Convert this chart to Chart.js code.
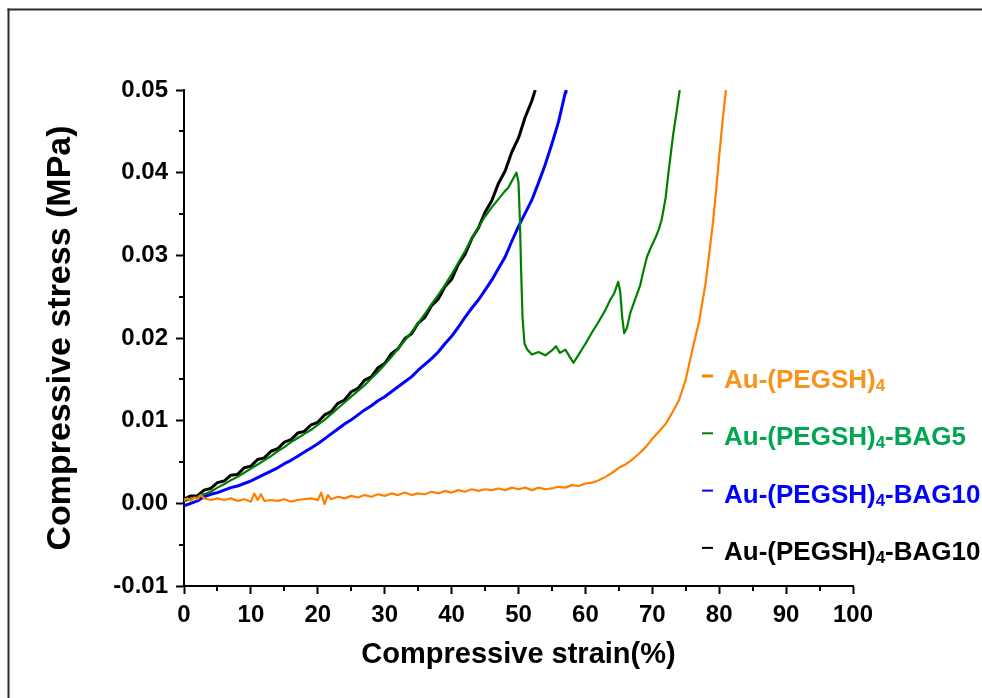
<!DOCTYPE html>
<html><head><meta charset="utf-8">
<script src="https://cdn.jsdelivr.net/npm/chart.js@4.4.1/dist/chart.umd.min.js"></script>
<style>html,body{margin:0;padding:0;background:#fff}canvas{display:block}</style>
</head><body>
<canvas id="c" width="982" height="698"></canvas>
<script>
// ---- data ----
const seriesLabels = ['Au-(PEGSH)₄', 'Au-(PEGSH)₄-BAG5', 'Au-(PEGSH)₄-BAG10', 'Au-(PEGSH)₄-BAG10'];

const orangeX = [0,0.5,1,1.5,2,2.5,3,3.5,4,5,6,7,8,9,10,10.5,11,11.5,12,13,14,15,16,17,18,19,20,20.5,21,21.5,22,23,24,25,26,27,28,29,30,31,32,33,34,35,36,37,38,39,40,41,42,43,44,45,46,47,48,49,50,51,52,53,54,55,56,57,58,59,60,61,62,63,64,65,66,67,68,69,70,71,72,73,74,75,76,77,78,79,79.5,80,80.5,81];
const orangeY = [0.0004,0.0006,0.0003,0.0007,0.0005,0.0010,0.0006,0.0005,0.0004,0.0006,0.0004,0.0006,0.0003,0.0005,0.0002,0.0012,0.0004,0.0011,0.0003,0.0004,0.0003,0.0005,0.0002,0.0004,0.0005,0.0006,0.0004,0.0013,-0.0001,0.0010,0.0005,0.0008,0.0006,0.0009,0.0007,0.0010,0.0008,0.0011,0.0009,0.0012,0.0010,0.0013,0.0010,0.0012,0.0011,0.0014,0.0012,0.0015,0.0013,0.0016,0.0014,0.0017,0.0015,0.0017,0.0016,0.0018,0.0016,0.0019,0.0017,0.0019,0.0016,0.0019,0.0017,0.0018,0.0020,0.0019,0.0022,0.0021,0.0024,0.0025,0.0028,0.0032,0.0037,0.0043,0.0047,0.0053,0.0060,0.0068,0.0078,0.0087,0.0096,0.0110,0.0125,0.0150,0.0186,0.0220,0.0268,0.0335,0.0375,0.0420,0.0462,0.0500];

const greenX = [0,1,2,3,4,5,6,7,8,9,10,11,12,13,14,15,16,17,18,19,20,21,22,23,24,25,26,27,28,29,30,31,32,33,34,35,36,37,38,39,40,41,42,43,44,45,46,47,48,48.5,49,49.7,50.0,50.2,50.4,50.6,50.9,51.3,52,53,54,55,55.6,56.2,57,57.6,58.2,59,60,61,62,63,63.7,64.3,64.9,65.2,65.5,65.8,66.2,66.7,67.4,68.2,68.7,69.2,69.7,70.4,71.0,71.4,72.0,72.4,72.8,73.1,73.6,74.1];
const greenY = [0.0003,0.0005,0.0008,0.0011,0.0014,0.0019,0.0023,0.0028,0.0032,0.0037,0.0042,0.0047,0.0052,0.0057,0.0063,0.0068,0.0074,0.0079,0.0084,0.0089,0.0095,0.0101,0.0108,0.0115,0.0122,0.0129,0.0136,0.0143,0.0151,0.0159,0.0168,0.0177,0.0187,0.0197,0.0207,0.0218,0.0229,0.0241,0.0252,0.0264,0.0277,0.0291,0.0305,0.0320,0.0334,0.0347,0.0358,0.0368,0.0378,0.0382,0.0390,0.0400,0.0388,0.0345,0.0280,0.0225,0.0193,0.0186,0.0180,0.0183,0.0179,0.0185,0.0190,0.0182,0.0186,0.0178,0.0170,0.0180,0.0193,0.0207,0.0220,0.0234,0.0246,0.0254,0.0268,0.0256,0.0225,0.0206,0.0212,0.0230,0.0246,0.0264,0.0282,0.0298,0.0308,0.0320,0.0332,0.0343,0.0370,0.0399,0.0425,0.0445,0.0472,0.0500];

const blueX = [0,1,2,3,4,5,6,7,8,9,10,11,12,13,14,15,16,17,18,19,20,21,22,23,24,25,26,27,28,29,30,31,32,33,34,35,36,37,38,39,40,41,42,43,44,45,46,47,48,49,50,51,52,53,54,55,56,57,57.1];
const blueY = [-0.0003,0.0000,0.0003,0.0008,0.0011,0.0013,0.0016,0.0019,0.0021,0.0024,0.0027,0.0031,0.0035,0.0039,0.0043,0.0048,0.0052,0.0057,0.0062,0.0067,0.0072,0.0078,0.0084,0.0090,0.0096,0.0101,0.0107,0.0113,0.0118,0.0124,0.0129,0.0135,0.0141,0.0147,0.0153,0.0161,0.0168,0.0175,0.0183,0.0193,0.0202,0.0213,0.0225,0.0236,0.0246,0.0258,0.0270,0.0284,0.0298,0.0317,0.0335,0.0351,0.0367,0.0388,0.0410,0.0435,0.0462,0.0497,0.0500];

const blackX = [0,1,2,3,4,5,6,7,8,9,10,11,12,13,14,15,16,17,18,19,20,21,22,23,24,25,26,27,28,29,30,31,32,33,34,35,36,37,38,39,40,41,42,43,44,45,46,47,48,49,50,51,52,52.5];
const blackY = [0.0005,0.0009,0.0009,0.0016,0.0018,0.0025,0.0027,0.0034,0.0035,0.0043,0.0045,0.0053,0.0055,0.0063,0.0066,0.0074,0.0077,0.0085,0.0087,0.0095,0.0098,0.0107,0.0111,0.0121,0.0125,0.0135,0.0139,0.0149,0.0153,0.0164,0.0169,0.0181,0.0187,0.0199,0.0205,0.0218,0.0225,0.0239,0.0247,0.0262,0.0271,0.0289,0.0301,0.0320,0.0333,0.0352,0.0366,0.0387,0.0402,0.0425,0.0442,0.0467,0.0487,0.0500];

const xTickValues = [0,10,20,30,40,50,60,70,80,90,100];
const xMinorValues = [5,15,25,35,45,55,65,75,85,95];
const yTickValues = [-0.01,0.00,0.01,0.02,0.03,0.04,0.05];
const yMinorValues = [-0.005,0.005,0.015,0.025,0.035,0.045];

const xTitle = 'Compressive strain(%)';
const yTitle = 'Compressive stress (MPa)';

// ---- styles ----
const lineColors = ['#FF8000', '#008000', '#0000FF', '#000000'];
const legendTextColors = ['#F7941D', '#00A651', '#0000FF', '#000000'];
const lineWidths = [2.2, 2.2, 3, 3];
const FONT = '"Liberation Sans", Arial, Helvetica, sans-serif';

function pts(xs, ys) { return xs.map((x, i) => ({ x: x, y: ys[i] })); }
const seriesData = [pts(orangeX, orangeY), pts(greenX, greenY), pts(blueX, blueY), pts(blackX, blackY)];

const framePlugin = {
  id: 'frame',
  beforeDraw(chart) {
    const ctx = chart.ctx;
    ctx.save();
    ctx.fillStyle = '#fff';
    ctx.fillRect(0, 0, chart.width, chart.height);
    ctx.fillStyle = '#2b2b2b';
    ctx.fillRect(7.5, 8.5, chart.width, 2);
    ctx.fillRect(7.5, 8.5, 2, chart.height);
    ctx.restore();
  }
};

const minorTicksPlugin = {
  id: 'minorTicks',
  afterDraw(chart) {
    const ctx = chart.ctx;
    const xs = chart.scales.x, ys = chart.scales.y;
    const area = chart.chartArea;
    ctx.save();
    ctx.strokeStyle = '#000';
    ctx.lineWidth = 2;
    ctx.beginPath();
    xMinorValues.forEach(v => {
      const p = Math.round(xs.getPixelForValue(v));
      ctx.moveTo(p, area.bottom); ctx.lineTo(p, area.bottom + 5);
    });
    yMinorValues.forEach(v => {
      const p = Math.round(ys.getPixelForValue(v));
      ctx.moveTo(area.left, p); ctx.lineTo(area.left - 5, p);
    });
    ctx.stroke();
    ctx.restore();
  }
};

const legendPlugin = {
  id: 'subLegend',
  afterDraw(chart) {
    const ctx = chart.ctx;
    const top = 388, step = 57.3;
    ctx.save();
    chart.data.datasets.forEach((ds, i) => {
      const base = top + i * step;
      ctx.strokeStyle = ds.borderColor;
      ctx.lineWidth = i === 0 ? 3 : 2;
      ctx.beginPath();
      ctx.moveTo(702, base - 12); ctx.lineTo(713, base - 12);
      ctx.stroke();
      const parts = ds.label.split('₄');
      ctx.fillStyle = legendTextColors[i];
      ctx.textBaseline = 'alphabetic';
      ctx.textAlign = 'left';
      let x = 724;
      ctx.font = 'bold 26px ' + FONT;
      ctx.fillText(parts[0], x, base);
      x += ctx.measureText(parts[0]).width;
      ctx.font = 'bold 17px ' + FONT;
      ctx.fillText('4', x, base + 3);
      x += ctx.measureText('4').width;
      if (parts[1]) {
        ctx.font = 'bold 26px ' + FONT;
        ctx.fillText(parts[1], x, base);
      }
    });
    ctx.restore();
  }
};

Chart.defaults.font.family = FONT;
Chart.defaults.font.weight = 'bold';
Chart.defaults.color = '#000';

new Chart(document.getElementById('c'), {
  type: 'line',
  data: {
    datasets: seriesData.map((d, i) => ({
      label: seriesLabels[i],
      data: d,
      borderColor: lineColors[i],
      backgroundColor: lineColors[i],
      borderWidth: lineWidths[i],
      pointRadius: 0,
      tension: 0,
      fill: false,
      borderJoinStyle: 'round'
    }))
  },
  options: {
    responsive: false,
    animation: false,
    devicePixelRatio: 1,
    parsing: true,
    layout: { padding: { left: 0, right: 129, top: 90, bottom: 0 } },
    plugins: { legend: { display: false }, tooltip: { enabled: false } },
    scales: {
      x: {
        type: 'linear', position: 'bottom', min: 0, max: 100,
        afterBuildTicks: s => { s.ticks = xTickValues.map(v => ({ value: v })); },
        afterFit: s => { s.height = 112; },
        ticks: { font: { size: 24, weight: 'bold' }, color: '#000', padding: 7, maxRotation: 0, autoSkip: false,
                 callback: v => String(v) },
        grid: { drawOnChartArea: false, tickLength: 8, tickWidth: 2, tickColor: '#000' },
        border: { display: true, color: '#000', width: 2 },
        title: { display: true, text: xTitle, color: '#000', font: { size: 29, weight: 'bold' }, padding: { top: 0, bottom: 26 } }
      },
      y: {
        type: 'linear', position: 'left', min: -0.01, max: 0.05,
        afterBuildTicks: s => { s.ticks = yTickValues.map(v => ({ value: v })); },
        afterFit: s => { s.width = 184; },
        ticks: { font: { size: 24, weight: 'bold' }, color: '#000', padding: 8, autoSkip: false,
                 callback: v => Number(v).toFixed(2) },
        grid: { drawOnChartArea: false, tickLength: 8, tickWidth: 2, tickColor: '#000' },
        border: { display: true, color: '#000', width: 2 },
        title: { display: true, text: yTitle, color: '#000', font: { size: 34, weight: 'bold' }, padding: { top: 40, bottom: 0 } }
      }
    }
  },
  plugins: [framePlugin, minorTicksPlugin, legendPlugin]
});
</script>
</body></html>
